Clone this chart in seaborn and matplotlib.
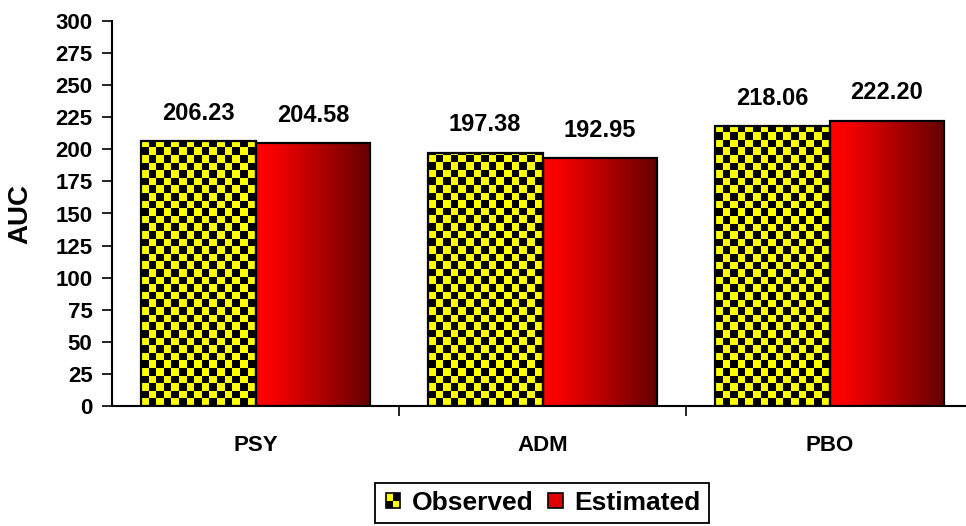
import numpy as np
import pandas as pd
import matplotlib
matplotlib.use("Agg")
import matplotlib.pyplot as plt
import seaborn as sns
from matplotlib.colors import ListedColormap, LinearSegmentedColormap
from matplotlib.patches import Rectangle
from matplotlib.legend_handler import HandlerBase

# data
groups = ["PSY", "ADM", "PBO"]
observed = [206.23, 197.38, 218.06]
estimated = [204.58, 192.95, 222.20]
series = ["Observed", "Estimated"]

df = pd.DataFrame({
    "group": groups * 2,
    "series": [series[0]] * 3 + [series[1]] * 3,
    "auc": observed + estimated,
})

sns.set_theme(style="white")
plt.rcParams["font.family"] = ["Liberation Sans", "DejaVu Sans"]
plt.rcParams["font.weight"] = "bold"
for key in ["text.color", "axes.labelcolor", "xtick.color", "ytick.color"]:
    plt.rcParams[key] = "black"

W, H = 966, 526
fig = plt.figure(figsize=(W / 100, H / 100), dpi=100)
# plot area: axis at x=112px, category width ~287px, 0 at y=406px, 300 at y=21px
ax = fig.add_axes([112 / W, 1 - 406 / H, 861 / W, 385 / H])

sns.barplot(data=df, x="group", y="auc", hue="series", hue_order=series,
            order=groups, width=0.8, palette=["#ffff00", "#ff0000"],
            edgecolor="black", linewidth=1.6, legend=False, ax=ax, zorder=3)

ax.set_xlim(-0.5, 2.5)
ax.set_ylim(0, 300)

checker_cmap = ListedColormap(["#ffff00", "#000000"])
red_cmap = LinearSegmentedColormap.from_list(
    "redfade", [(0, "#ff0000"), (0.12, "#fb0000"), (1, "#640000")])

cell_px = 7.6
obs_bars, est_bars = ax.containers[0], ax.containers[1]
for bar in obs_bars:
    x0, w, h = bar.get_x(), bar.get_width(), bar.get_height()
    p0 = ax.transData.transform((x0, 0))
    p1 = ax.transData.transform((x0 + w, h))
    nx = int(np.ceil((p1[0] - p0[0]) / cell_px))
    ny = int(np.ceil((p1[1] - p0[1]) / cell_px))
    yy, xx = np.indices((ny, nx))
    board = (xx + yy) % 2
    x1 = x0 + nx * cell_px * w / (p1[0] - p0[0])
    y1 = ny * cell_px * h / (p1[1] - p0[1])
    im = ax.imshow(board, cmap=checker_cmap, extent=(x0, x1, 0, y1),
                   origin="lower", aspect="auto", interpolation="nearest",
                   zorder=2)
    im.set_clip_path(bar)
    bar.set_facecolor("none")

grad = np.linspace(0, 1, 256).reshape(1, -1)
for bar in est_bars:
    x0, w, h = bar.get_x(), bar.get_width(), bar.get_height()
    im = ax.imshow(grad, cmap=red_cmap, extent=(x0, x0 + w, 0, h),
                   aspect="auto", interpolation="bilinear", zorder=2)
    im.set_clip_path(bar)
    bar.set_facecolor("none")

ax.set_xlim(-0.5, 2.5)
ax.set_ylim(0, 300)

# value labels
for cont in ax.containers:
    for bar in cont:
        ax.annotate(f"{bar.get_height():.2f}",
                    (bar.get_x() + bar.get_width() / 2, bar.get_height()),
                    xytext=(0, 28), textcoords="offset pixels",
                    ha="center", va="center", fontsize=17, fontweight="bold",
                    color="black")

# axes styling
for side in ["top", "right"]:
    ax.spines[side].set_visible(False)
for side in ["left", "bottom"]:
    ax.spines[side].set_color("black")
    ax.spines[side].set_linewidth(1.5)

ax.set_yticks(np.arange(0, 301, 25))
ax.tick_params(axis="y", direction="out", length=7, width=1.2, color="black",
               left=True, labelsize=16, pad=7)
for t in ax.get_yticklabels():
    t.set_fontweight("bold")

ax.set_xticks(range(len(groups)))
ax.set_xticklabels(groups, fontsize=16, fontweight="bold")
ax.tick_params(axis="x", which="major", length=0, pad=21)
ax.set_xticks([0.5, 1.5, 2.5], minor=True)
ax.tick_params(axis="x", which="minor", direction="out", length=7, width=1.2,
               color="black", bottom=True)
ax.set_xlabel("")
ax.set_ylabel("AUC", fontsize=20, fontweight="bold")
ax.yaxis.set_label_coords(-(112 - 33) / 861, 0.5)


class CheckerHandler(HandlerBase):
    def create_artists(self, legend, orig_handle, xdescent, ydescent,
                       width, height, fontsize, trans):
        s = height * 0.8
        x = -xdescent + (width - s) / 2
        y = -ydescent + (height - s) / 2
        half = s / 2
        arts = []
        cols = [["#000000", "#ffff00"], ["#ffff00", "#000000"]]
        for i in range(2):
            for j in range(2):
                arts.append(Rectangle((x + j * half, y + i * half), half, half,
                                      facecolor=cols[i][j], edgecolor="none",
                                      transform=trans))
        arts.append(Rectangle((x, y), s, s, facecolor="none",
                              edgecolor="black", linewidth=1.2, transform=trans))
        return arts


class SquareHandler(HandlerBase):
    def create_artists(self, legend, orig_handle, xdescent, ydescent,
                       width, height, fontsize, trans):
        s = height * 0.8
        x = -xdescent + (width - s) / 2
        y = -ydescent + (height - s) / 2
        return [Rectangle((x, y), s, s, facecolor="#e00000",
                          edgecolor="black", linewidth=1.2, transform=trans)]


h_obs = Rectangle((0, 0), 1, 1)
h_est = Rectangle((0, 0), 1, 1)
leg = fig.legend([h_obs, h_est], series, loc="center",
                 bbox_to_anchor=(542 / W, 1 - 503 / H), ncol=2,
                 handler_map={h_obs: CheckerHandler(), h_est: SquareHandler()},
                 handlelength=0.75, handletextpad=0.35, columnspacing=0.45,
                 borderpad=0.3, borderaxespad=0, fancybox=False, framealpha=1,
                 prop={"weight": "bold", "size": 19})
leg.get_frame().set_edgecolor("black")
leg.get_frame().set_linewidth(1.3)

fig.savefig("out.png", dpi=100)
